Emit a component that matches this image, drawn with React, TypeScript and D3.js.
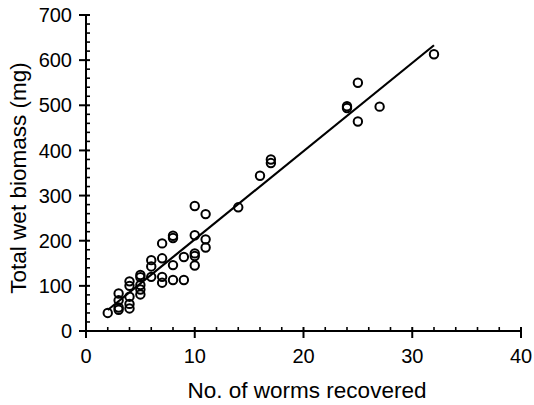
import React from 'react';
import * as d3 from 'd3';

// worms recovered (x) and total wet biomass in mg (y), one entry per sample
const worms = [
  2, 3, 3, 3, 3, 4, 4, 4, 4, 4,
  5, 5, 5, 5, 5, 6, 6, 6, 7, 7,
  7, 7, 8, 8, 8, 8, 9, 9, 10, 10,
  10, 10, 10, 11, 11, 11, 14, 16, 17, 17,
  24, 24, 25, 25, 27, 32,
];
const biomass = [
  40, 83, 68, 52, 47, 110, 100, 76, 60, 50,
  124, 119, 102, 92, 81, 157, 143, 120, 194, 161,
  120, 107, 211, 206, 146, 113, 164, 113, 277, 212,
  172, 166, 145, 259, 203, 185, 274, 344, 380, 372,
  498, 494, 550, 464, 497, 613,
];

// fitted regression line
const fitSlope = 19.55;
const fitIntercept = 7.4;
const fitRange = [2, 32];

const xTicks = [0, 10, 20, 30, 40];
const yTicks = [0, 100, 200, 300, 400, 500, 600, 700];

const font = 'Liberation Sans, Arial, sans-serif';

export default function App() {
  const width = 534, height = 405;
  const x = d3.scaleLinear().domain([0, 40]).range([86, 521]);
  const y = d3.scaleLinear().domain([0, 700]).range([331, 15]);

  const xMinor = d3.range(0, 41, 2).filter(v => v % 10 !== 0);
  const yMinor = d3.range(0, 701, 20).filter(v => v % 100 !== 0);

  const line = d3.line<number>()
    .x(d => x(d))
    .y(d => y(fitSlope * d + fitIntercept));

  return (
    <svg width={width} height={height}
      style={{ position: 'absolute', left: 0, top: 0, background: '#fff' }}
      fontFamily={font}>
      {/* y axis */}
      <line x1={x(0)} x2={x(0)} y1={y(0)} y2={y(700)} stroke="#000" strokeWidth={2} />
      {yTicks.map(t => (
        <g key={'y' + t}>
          <line x1={x(0) - 7} x2={x(0) + 4} y1={y(t)} y2={y(t)} stroke="#000" strokeWidth={2} />
          <text x={x(0) - 14} y={y(t)} dy="0.36em" textAnchor="end" fontSize={20}>{t}</text>
        </g>
      ))}
      {yMinor.map(t => (
        <line key={'ym' + t} x1={x(0)} x2={x(0) + 4} y1={y(t)} y2={y(t)} stroke="#000" strokeWidth={1.6} />
      ))}
      {/* x axis */}
      <line x1={x(0)} x2={x(40)} y1={y(0)} y2={y(0)} stroke="#000" strokeWidth={2} />
      {xTicks.map(t => (
        <g key={'x' + t}>
          <line x1={x(t)} x2={x(t)} y1={y(0) - 4} y2={y(0) + 7} stroke="#000" strokeWidth={2} />
          <text x={x(t)} y={y(0) + 32} textAnchor="middle" fontSize={20}>{t}</text>
        </g>
      ))}
      {xMinor.map(t => (
        <line key={'xm' + t} x1={x(t)} x2={x(t)} y1={y(0) - 4} y2={y(0)} stroke="#000" strokeWidth={1.6} />
      ))}
      <text x={307} y={398} textAnchor="middle" fontSize={22.5}>No. of worms recovered</text>
      <text transform={`translate(26,178) rotate(-90)`} textAnchor="middle" fontSize={22.5}>Total wet biomass (mg)</text>

      {/* regression */}
      <path d={line(fitRange) || ''} fill="none" stroke="#000" strokeWidth={2.2} />

      {/* points */}
      {worms.map((w, i) => (
        <circle key={i} cx={x(w)} cy={y(biomass[i])} r={4.2} fill="none" stroke="#000" strokeWidth={2} />
      ))}
    </svg>
  );
}
